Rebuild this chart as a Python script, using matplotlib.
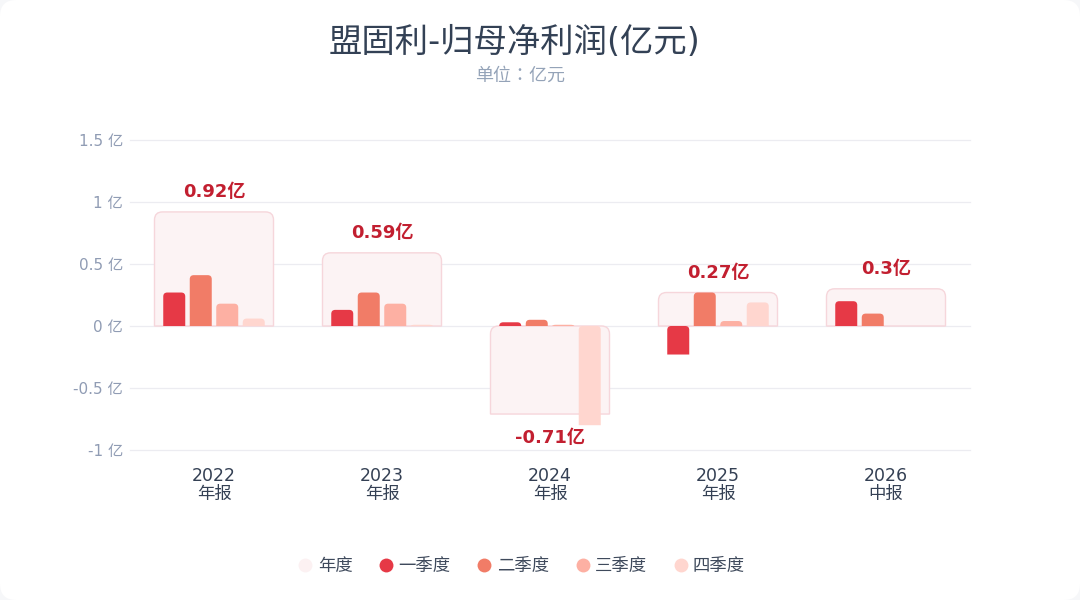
import matplotlib
matplotlib.use("Agg")
import matplotlib.pyplot as plt
from matplotlib.path import Path
from matplotlib.patches import PathPatch, FancyBboxPatch
from matplotlib.lines import Line2D

plt.rcParams['font.family'] = ['DejaVu Sans', 'Noto Sans CJK SC']

# ---- data ----
years = ["2022", "2023", "2024", "2025", "2026"]
periods = ["年报", "年报", "年报", "年报", "中报"]
annual = [0.92, 0.59, -0.71, 0.27, 0.30]
annual_labels = ["0.92亿", "0.59亿", "-0.71亿", "0.27亿", "0.3亿"]
q1 = [0.27, 0.13, 0.03, -0.23, 0.20]
q2 = [0.41, 0.27, 0.05, 0.27, 0.10]
q3 = [0.18, 0.18, 0.01, 0.04, None]
q4 = [0.06, 0.01, -0.80, 0.19, None]
series_names = ["一季度", "二季度", "三季度", "四季度"]
yticks = [-1, -0.5, 0, 0.5, 1, 1.5]
ytick_labels = ["-1 亿", "-0.5 亿", "0 亿", "0.5 亿", "1 亿", "1.5 亿"]

q_colors = ["#e63946", "#f17c67", "#fdb0a3", "#ffd6cf"]
annual_face = "#fcf3f4"
annual_edge = "#f6d6db"
label_color = "#c21f30"

W, H = 1080, 600
fig = plt.figure(figsize=(W / 100, H / 100), dpi=100)
fig.patch.set_facecolor("#f6f7f9")
card = FancyBboxPatch((0, 0), 1, 1, boxstyle="round,pad=0,rounding_size=0.015",
                      transform=fig.transFigure, facecolor="white", edgecolor="none",
                      mutation_aspect=W / H, zorder=-10)
fig.patches.append(card)

ax_l, ax_r, ax_t, ax_b = 130, 970, 140, 450
ax = fig.add_axes([ax_l / W, 1 - ax_b / H, (ax_r - ax_l) / W, (ax_b - ax_t) / H])
ax.set_zorder(1)
ax.set_facecolor("none")
ax.set_xlim(-0.5, len(years) - 0.5)
ax.set_ylim(-1, 1.5)

px_x = (len(years)) / (ax_r - ax_l)       # data units per pixel in x
px_y = 2.5 / (ax_b - ax_t)                # data units per pixel in y


def top_rounded(x0, w, v, r_px, **kw):
    """Bar from 0 to v; corners at the top (screen) rounded."""
    y0, y1 = (0, v) if v >= 0 else (v, 0)
    rx = min(r_px * px_x, w / 2)
    ry = min(r_px * px_y, (y1 - y0))
    verts = [(x0, y0), (x0, y1 - ry), (x0, y1), (x0 + rx, y1),
             (x0 + w - rx, y1), (x0 + w, y1), (x0 + w, y1 - ry),
             (x0 + w, y0), (x0, y0)]
    codes = [Path.MOVETO, Path.LINETO, Path.CURVE3, Path.CURVE3,
             Path.LINETO, Path.CURVE3, Path.CURVE3, Path.LINETO, Path.CLOSEPOLY]
    p = PathPatch(Path(verts, codes), **kw)
    ax.add_patch(p)
    return p


# grid
for t in yticks:
    ax.axhline(t, color="#ececf1", lw=0.9, zorder=0.5, clip_on=False)

box_w = 119 / 168
bar_w = 22 / 168
step = 26.5 / 168
quarters = [q1, q2, q3, q4]
for i, a in enumerate(annual):
    top_rounded(i - box_w / 2, box_w, a, 8, facecolor=annual_face,
                edgecolor=annual_edge, lw=1.0, zorder=1)
    for k, q in enumerate(quarters):
        v = q[i]
        if v is None:
            continue
        xc = i + (k - 1.5) * step
        top_rounded(xc - bar_w / 2, bar_w, v, 4, facecolor=q_colors[k],
                    edgecolor="none", zorder=2)
    if a >= 0:
        ax.text(i, a + 20 * px_y, annual_labels[i], ha="center", va="center",
                color=label_color, fontsize=13, fontweight="bold", zorder=3)
    else:
        ax.text(i, a - 24 * px_y, annual_labels[i], ha="center", va="center",
                color=label_color, fontsize=13, fontweight="bold", zorder=3)

for s in ax.spines.values():
    s.set_visible(False)
ax.set_yticks(yticks)
ax.set_yticklabels(ytick_labels, color="#909cb4", fontsize=11)
ax.tick_params(axis="y", length=0, pad=5)
ax.set_xticks(range(len(years)))
ax.set_xticklabels([f"{y}\n{p}" for y, p in zip(years, periods)],
                   color="#344054", fontsize=12.5, linespacing=1.0)
ax.tick_params(axis="x", length=0, pad=12)

fig.text(514 / W, 1 - 42 / H, "盟固利-归母净利润(亿元)", ha="center", va="center",
         fontsize=24, color="#334155")
fig.text(520 / W, 1 - 76 / H, "单位：亿元", ha="center", va="center",
         fontsize=13, color="#94a3b8", family=['DejaVu Sans', 'Noto Sans CJK TC'])

handles = [Line2D([], [], marker="o", ls="none", markersize=10,
                  markerfacecolor="#fcf1f2", markeredgecolor="none")]
handles += [Line2D([], [], marker="o", ls="none", markersize=10,
                   markerfacecolor=c, markeredgecolor="none") for c in q_colors]
leg = fig.legend(handles, ["年度"] + series_names, loc="center",
                 bbox_to_anchor=(520 / W, 1 - 566 / H), ncol=5, frameon=False,
                 fontsize=12.5, handletextpad=0.1, columnspacing=1.35,
                 handlelength=1.2)
for t in leg.get_texts():
    t.set_color("#3f4a5c")

fig.savefig("out.png", dpi=100, facecolor=fig.get_facecolor())
